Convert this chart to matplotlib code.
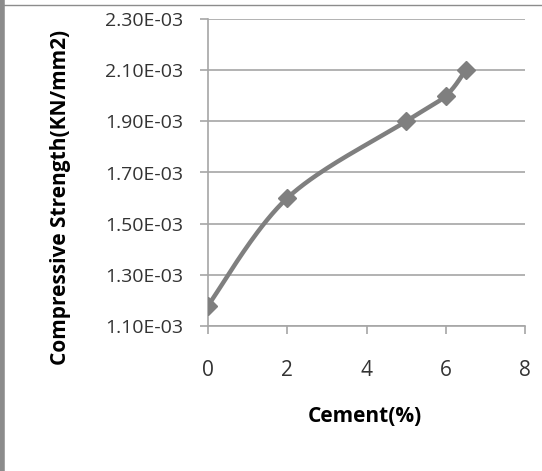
import numpy as np
import matplotlib.pyplot as plt
from matplotlib.lines import Line2D

# cement content (%) vs compressive strength (KN/mm2)
cement = [0, 2, 5, 6, 6.5]
strength = [1.18e-3, 1.60e-3, 1.90e-3, 2.00e-3, 2.10e-3]

y_ticks = [1.10e-3, 1.30e-3, 1.50e-3, 1.70e-3, 1.90e-3, 2.10e-3, 2.30e-3]
x_ticks = [0, 2, 4, 6, 8]


def smooth(xs, ys, n=40):
    # Catmull-Rom style cubic Bezier through every point
    pts = np.column_stack([xs, ys]).astype(float)
    ext = np.vstack([pts[0], pts, pts[-1]])
    out = []
    t = np.linspace(0, 1, n)[:, None]
    for i in range(1, len(ext) - 2):
        p0, p1, p2, p3 = ext[i - 1], ext[i], ext[i + 1], ext[i + 2]
        b1 = p1 + (p2 - p0) / 6
        b2 = p2 - (p3 - p1) / 6
        seg = ((1 - t) ** 3) * p1 + 3 * ((1 - t) ** 2) * t * b1 \
            + 3 * (1 - t) * t ** 2 * b2 + t ** 3 * p2
        out.append(seg if i == 1 else seg[1:])
    arr = np.vstack(out)
    return arr[:, 0], arr[:, 1]


plt.rcParams['font.family'] = ['Open Sans', 'DejaVu Sans']

W, H = 542, 471
fig = plt.figure(figsize=(W / 100, H / 100), dpi=100)
ax = fig.add_axes([208 / W, 1 - 326 / H, (525 - 208) / W, (326 - 19) / H])

sx, sy = smooth(cement, strength)
ax.plot(sx, sy, color='#7f7f7f', lw=3.2, solid_capstyle='round', zorder=3)
ax.plot(cement, strength, ls='none', marker='D', ms=9.5, color='#7f7f7f', zorder=4)

ax.set_xlim(0, 8)
ax.set_ylim(1.10e-3, 2.30e-3)
ax.set_xticks(x_ticks)
ax.set_xticklabels([str(v) for v in x_ticks], fontsize=15, color='#333333')
ax.set_yticks(y_ticks)
ax.set_yticklabels([f"{v:.2E}" for v in y_ticks], fontsize=14, color='#333333')

ax.grid(axis='y', color='#a6a6a6', lw=1.2)
ax.set_axisbelow(True)
for s in ['top', 'right']:
    ax.spines[s].set_visible(False)
for s in ['left', 'bottom']:
    ax.spines[s].set_color('#a6a6a6')
    ax.spines[s].set_linewidth(1.2)
ax.tick_params(axis='both', color='#a6a6a6', length=5.8, width=1.2)
ax.tick_params(axis='x', pad=18.5)
ax.tick_params(axis='y', pad=12)

# axis titles
fig.text(365 / W, 1 - 417 / H, 'Cement(%)', fontsize=15, fontweight='bold',
         ha='center', va='center')
fig.text(61 / W, 1 - 197 / H, 'Compressive Strength(KN/mm2)', fontsize=15,
         fontweight='bold', rotation=90, ha='center', va='center')

# chart frame: thick left edge and thin top edge
fig.add_artist(Line2D([2 / W, 2 / W], [0, 1], color='#8c8c8c', lw=4))
fig.add_artist(Line2D([4 / W, 1], [1 - 5 / H, 1 - 5 / H], color='#8c8c8c', lw=1))

fig.savefig('out.png', dpi=100)
